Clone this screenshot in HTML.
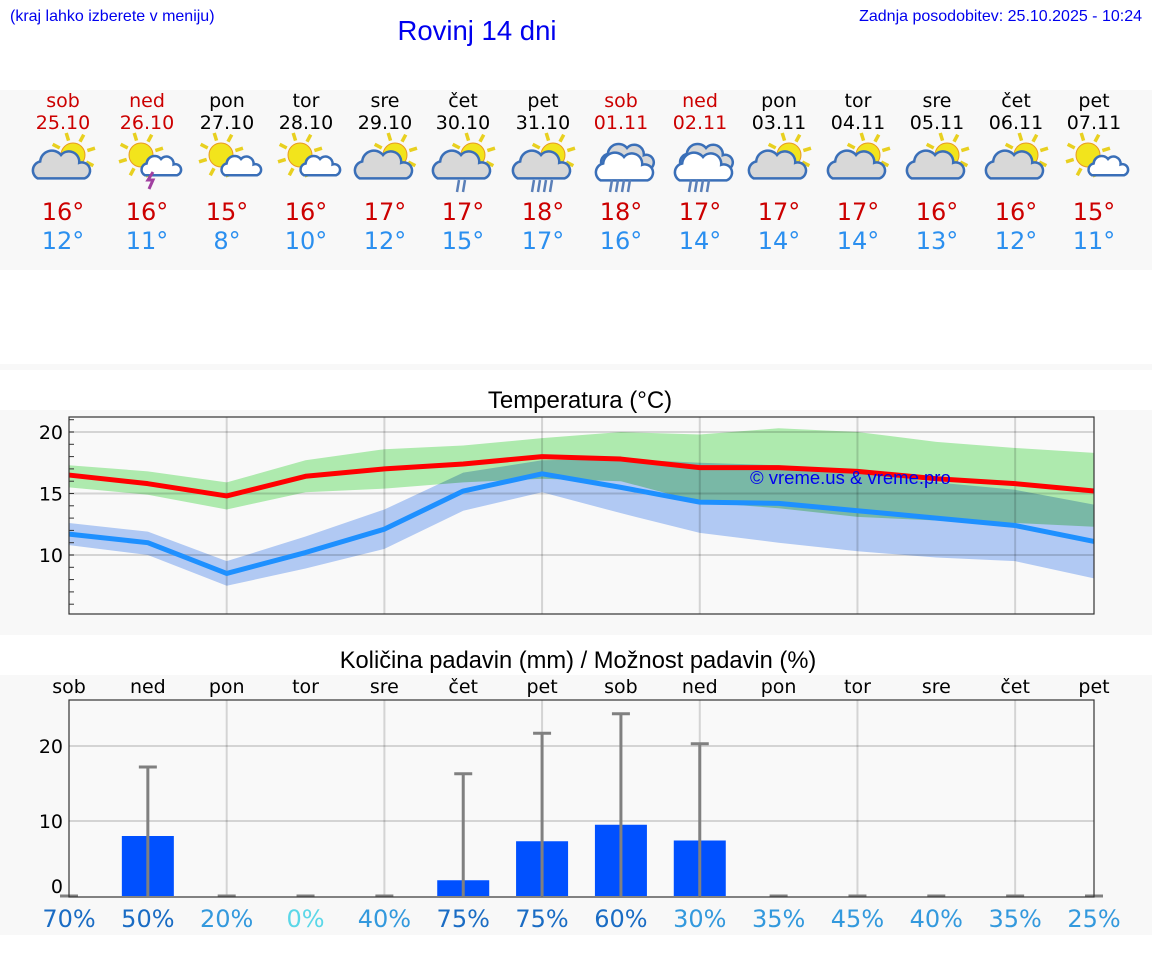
<!DOCTYPE html>
<html><head><meta charset="utf-8">
<style>
html,body{margin:0;padding:0;background:#fff;}
body{width:1152px;height:975px;overflow:hidden;position:relative;font-family:"DejaVu Sans",sans-serif;}
svg{position:absolute;left:0;top:0;}
</style></head>
<body>
<svg id="chart" width="1152" height="975" viewBox="0 0 1152 975">
  <rect x="0" y="90" width="1152" height="180" fill="#f8f8f8"/>
  <rect x="0" y="364" width="1152" height="6" fill="#f8f8f8"/>
  <rect x="0" y="410" width="1152" height="225" fill="#f8f8f8"/>
  <rect x="0" y="675" width="1152" height="260" fill="#f8f8f8"/>
  <text x="10" y="21" font-family="Liberation Sans, sans-serif" font-size="16" fill="#0000ee">(kraj lahko izberete v meniju)</text>
  <text x="477" y="40" text-anchor="middle" font-family="Liberation Sans, sans-serif" font-size="27.5" fill="#0000ee">Rovinj 14 dni</text>
  <text x="1142" y="21" text-anchor="end" font-family="Liberation Sans, sans-serif" font-size="16" fill="#0000ee">Zadnja posodobitev: 25.10.2025 - 10:24</text>
  <text x="580" y="408" text-anchor="middle" font-family="Liberation Sans, sans-serif" font-size="24" fill="#000">Temperatura (°C)</text>
  <text x="578" y="668" text-anchor="middle" font-family="Liberation Sans, sans-serif" font-size="23.7" fill="#000">Količina padavin (mm) / Možnost padavin (%)</text>
  <g id="hdr"></g>
  <g id="temp"></g>
  <g id="prec"></g>
</svg>
<script>
const dayNames=["sob","ned","pon","tor","sre","čet","pet","sob","ned","pon","tor","sre","čet","pet"];
const dates=["25.10","26.10","27.10","28.10","29.10","30.10","31.10","01.11","02.11","03.11","04.11","05.11","06.11","07.11"];
const weekend=[1,1,0,0,0,0,0,1,1,0,0,0,0,0];
const icons=["pc","st","ps","ps","pc","pr","pr","cr","cr","pc","pc","pc","pc","ps"];
const maxT=[16,16,15,16,17,17,18,18,17,17,17,16,16,15];
const minT=[12,11,8,10,12,15,17,16,14,14,14,13,12,11];
const tMax=[16.5,15.8,14.8,16.4,17.0,17.4,18.0,17.8,17.1,17.1,16.8,16.2,15.8,15.2];
const tMaxHi=[17.3,16.8,15.9,17.7,18.6,18.9,19.5,20.0,19.8,20.3,20.0,19.2,18.7,18.3];
const tMaxLo=[15.5,14.9,13.7,15.1,15.4,15.9,16.2,16.0,14.3,13.8,13.1,12.8,12.6,12.3];
const tMin=[11.7,11.0,8.5,10.2,12.1,15.2,16.6,15.5,14.3,14.2,13.6,13.0,12.4,11.1];
const tMinHi=[12.6,11.9,9.5,11.5,13.7,16.7,17.7,17.8,17.5,17.3,16.7,15.9,15.3,14.1];
const tMinLo=[10.8,10.0,7.5,8.9,10.5,13.6,15.1,13.4,11.8,11.0,10.3,9.8,9.5,8.1];
const tTicks=[10,15,20];
const precip=[0,8.0,0,0,0,2.1,7.3,9.5,7.4,0,0,0,0,0];
const precipMax=[0,17.2,0,0,0,16.3,21.7,24.3,20.3,0,0,0,0,0];
const chance=[70,50,20,0,40,75,75,60,30,35,45,40,35,25];
const pTicks=[0,10,20];

const NS="http://www.w3.org/2000/svg";
function mk(tag,attrs,parent,txt){const e=document.createElementNS(NS,tag);for(const k in attrs)e.setAttribute(k,attrs[k]);if(txt!==undefined)e.textContent=txt;parent.appendChild(e);return e;}
const X0=69,X1=1094,N=14;
const xs=i=>X0+i*(X1-X0)/(N-1);
const yT=v=>432-(v-20)*12.3;
const yP=v=>896-7.5*v;

// header
const hdr=document.getElementById('hdr');
function sun(g,cx,cy,r){
  for(let k=0;k<8;k++){const a=k*Math.PI/4-0.3;mk('line',{x1:cx+Math.cos(a)*(r+3),y1:cy+Math.sin(a)*(r+3),x2:cx+Math.cos(a)*(r+11),y2:cy+Math.sin(a)*(r+11),stroke:'#e8d020','stroke-width':3.5},g);}
  mk('circle',{cx:cx,cy:cy,r:r,fill:'#f2e41c',stroke:'#e89a20','stroke-width':1},g);
}
function cloud(g,cx,cy,s,fill){
  const p=`M${cx-18*s},${cy+8*s} a${7*s},${7*s} 0 0 1 ${2*s},${-13*s} a${9*s},${9*s} 0 0 1 ${16*s},${-5*s} a${8*s},${8*s} 0 0 1 ${14*s},${6*s} a${6*s},${6*s} 0 0 1 ${4*s},${12*s} Z`;
  mk('path',{d:p,fill:fill,stroke:'#3a6fb8','stroke-width':2.5},g);
}
for(let i=0;i<N;i++){
  const cx=[63,147,227,306,385,463,543,621,700,779,858,937,1016,1094][i];
  const col=weekend[i]?'#cc0000':'#000';
  let t=mk('text',{x:cx,y:107,'text-anchor':'middle','font-size':19,fill:col},hdr,dayNames[i]);
  
  t=mk('text',{x:cx,y:129,'text-anchor':'middle','font-size':19,fill:col},hdr,dates[i]);
  
  const g=mk('g',{},hdr);
  
  
  const ic=icons[i];
  if(ic==='pc'||ic==='pr'){sun(g,cx+10,155,12);cloud(g,cx-2,168,1.3,'#d8d8d8');}
  if(ic==='ps'||ic==='st'){sun(g,cx-6,155,12);cloud(g,cx+14,168,0.9,'#ffffff');}
  if(ic==='cr'){cloud(g,cx+6,160,1.2,'#d8d8d8');cloud(g,cx+3,170,1.3,'#ffffff');}
  if(ic==='st'){mk('path',{d:`M${cx+6},172 l-5,8 h5 l-4,9`,stroke:'#a040a0','stroke-width':3,fill:'none'},g);}
  if(ic==='pr'||ic==='cr'){const n=ic==='cr'?4:(i===6?4:2);const off=(i===5?5:0);for(let k=0;k<n;k++)mk('line',{x1:cx-9+k*6+off,y1:180,x2:cx-11+k*6+off,y2:192,stroke:'#5a7fb8','stroke-width':2.5},g);}
  t=mk('text',{x:cx,y:220,'text-anchor':'middle','font-size':24,fill:'#cc0000'},hdr,maxT[i]+'°');
  
  t=mk('text',{x:cx,y:249,'text-anchor':'middle','font-size':24,fill:'#2b8fef'},hdr,minT[i]+'°');
  
}

// temperature chart
const tg=document.getElementById('temp');
const TY0=417,TY1=614;
let r=mk('rect',{x:X0,y:TY0,width:X1-X0,height:TY1-TY0,fill:'#f9f9f9'},tg);

const bands=mk('g',{style:'isolation:isolate'},tg);
function band(hi,lo,fill,name){
  let d='M'+hi.map((v,i)=>xs(i)+','+yT(v)).join(' L')+' L'+lo.map((v,i)=>xs(i)+','+yT(v)).reverse().join(' L')+' Z';
  const p=mk('path',{d:d,fill:fill,style:'mix-blend-mode:multiply'},bands);
  
}
band(tMaxHi,tMaxLo,'#aeeaae','max-temp-range');
band(tMinHi,tMinLo,'#b1c9f3','min-temp-range');
for(let k=2;k<N-1;k+=2){const l=mk('line',{x1:xs(k),y1:TY0,x2:xs(k),y2:TY1,stroke:'rgba(0,0,0,0.15)','stroke-width':2},tg);}
tTicks.forEach(v=>{
  const l=mk('line',{x1:X0,y1:yT(v),x2:X1,y2:yT(v),stroke:'rgba(0,0,0,0.15)','stroke-width':2},tg);
  
  const t=mk('text',{x:63,y:yT(v)+7,'text-anchor':'end','font-size':19,fill:'#000'},tg,v);
  
});
for(let v=6;v<=21;v++){mk('line',{x1:X0,y1:yT(v),x2:X0+5,y2:yT(v),stroke:'#333','stroke-width':1},tg);}
function line(arr,col,name){
  const p=mk('polyline',{points:arr.map((v,i)=>xs(i)+','+yT(v)).join(' '),fill:'none',stroke:col,'stroke-width':5,'stroke-linejoin':'round'},tg);
  
}
line(tMin,'#1e90ff','min-temp-line');
line(tMax,'#ff0000','max-temp-line');
r=mk('rect',{x:X0,y:TY0,width:X1-X0,height:TY1-TY0,fill:'none',stroke:'#333','stroke-width':1.2},tg);

let w=mk('text',{x:750,y:484,'font-family':'Liberation Sans, sans-serif','font-size':18.5,fill:'#0000ee'},tg,'© vreme.us & vreme.pro');


// precipitation chart
const pg=document.getElementById('prec');
const PY0=700,PY1=897;
r=mk('rect',{x:X0,y:PY0,width:X1-X0,height:PY1-PY0,fill:'#f9f9f9'},pg);

for(let k=2;k<N-1;k+=2){const l=mk('line',{x1:xs(k),y1:PY0,x2:xs(k),y2:PY1,stroke:'rgba(0,0,0,0.15)','stroke-width':2},pg);}
pTicks.forEach(v=>{
  if(v>0){const l=mk('line',{x1:X0,y1:yP(v),x2:X1,y2:yP(v),stroke:'rgba(0,0,0,0.15)','stroke-width':2},pg);}
  const t=mk('text',{x:63,y:yP(v)+(v===0?-3:7),'text-anchor':'end','font-size':19,fill:'#000'},pg,v);
  
});
for(let i=0;i<N;i++){
  const cx=xs(i);
  const lt=mk('text',{x:cx,y:693,'text-anchor':'middle','font-size':19,fill:'#000'},pg,dayNames[i]);
  
  if(precip[i]>0){
    const b=mk('rect',{x:cx-26,y:yP(precip[i]),width:52,height:yP(0)-yP(precip[i]),fill:'#0050ff'},pg);
    
  }
  const e=mk('line',{x1:cx,y1:yP(precipMax[i]),x2:cx,y2:yP(0),stroke:'#808080','stroke-width':3},pg);
  
  mk('line',{x1:cx-9,y1:yP(precipMax[i]),x2:cx+9,y2:yP(precipMax[i]),stroke:'#808080','stroke-width':3},pg);
  const c=chance[i];
  const col=c===0?'#5bd7e8':(c>=50?'#1a6cc4':'#3399dd');
  const ct=mk('text',{x:cx,y:927,'text-anchor':'middle','font-size':24,fill:col},pg,c+'%');
  
}
r=mk('rect',{x:X0,y:PY0,width:X1-X0,height:PY1-PY0,fill:'none',stroke:'#333','stroke-width':1.2},pg);

</script>
</body></html>
